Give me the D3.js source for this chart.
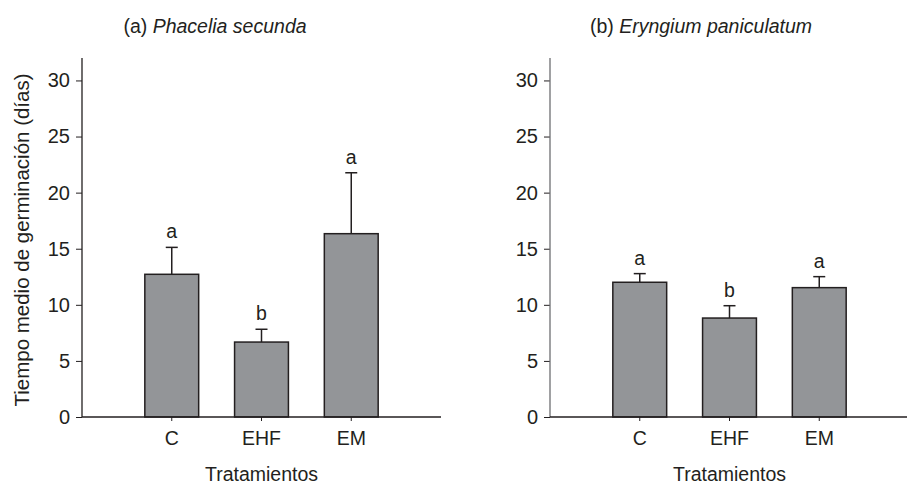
<!DOCTYPE html>
<html>
<head>
<meta charset="utf-8">
<script src="https://cdn.jsdelivr.net/npm/d3@7"></script>
<style>
  html, body { margin: 0; padding: 0; background: #fff; }
  svg { display: block; }
  text { font-family: "Liberation Sans", Arial, sans-serif; fill: #231f20; }
</style>
</head>
<body>
<script>
const categories = ["C", "EHF", "EM"];
const meansA = [12.72, 6.68, 16.34];
const seA = [2.40, 1.14, 5.43];
const lettersA = ["a", "b", "a"];
const meansB = [12.01, 8.82, 11.53];
const seB = [0.77, 1.10, 0.98];
const lettersB = ["a", "b", "a"];
const yTicks = [0, 5, 10, 15, 20, 25, 30];
const yLabel = "Tiempo medio de germinación (días)";
const xLabel = "Tratamientos";

const W = 907, H = 486;
const svg = d3.select("body").append("svg").attr("width", W).attr("height", H);

const FS = 19.5;
const y = d3.scaleLinear().domain([0, 32]).range([417, 58]);

function panel(x0, prefix, species, titleX, means, se, letters, yAxisColor) {
  const x = d3.scaleBand().domain(categories).range([x0, x0 + 359])
    .paddingInner(0.4).paddingOuter(0.7);
  const g = svg.append("g");

  // y axis
  const ya = g.append("g").attr("transform", `translate(${x0},0)`)
    .call(d3.axisLeft(y).tickValues(yTicks).tickSize(6).tickPadding(6).tickFormat(d3.format("d")));
  ya.select(".domain").remove();
  ya.selectAll(".tick line").attr("stroke", "#231f20");
  ya.selectAll(".tick text").style("font-size", "20px").attr("fill", "#231f20")
    .style("font-family", '"Liberation Sans", Arial, sans-serif');
  g.append("line").attr("x1", x0).attr("x2", x0).attr("y1", y(32)).attr("y2", y(0))
    .attr("stroke", yAxisColor).attr("stroke-width", 1.3);

  const data = categories.map((c, i) => ({ c, m: means[i], s: se[i], l: letters[i] }));
  // error bars
  g.selectAll(".err").data(data).enter().append("line")
    .attr("x1", d => x(d.c) + x.bandwidth() / 2).attr("x2", d => x(d.c) + x.bandwidth() / 2)
    .attr("y1", d => y(d.m)).attr("y2", d => y(d.m + d.s))
    .attr("stroke", "#231f20").attr("stroke-width", 1.5);
  g.selectAll(".cap").data(data).enter().append("line")
    .attr("x1", d => x(d.c) + x.bandwidth() / 2 - 6).attr("x2", d => x(d.c) + x.bandwidth() / 2 + 6)
    .attr("y1", d => y(d.m + d.s)).attr("y2", d => y(d.m + d.s))
    .attr("stroke", "#231f20").attr("stroke-width", 1.5);
  // bars
  g.selectAll(".bar").data(data).enter().append("rect")
    .attr("x", d => x(d.c)).attr("width", x.bandwidth())
    .attr("y", d => y(d.m)).attr("height", d => y(0) - y(d.m))
    .attr("fill", "#939598").attr("stroke", "#231f20").attr("stroke-width", 1.5);
  g.selectAll(".let").data(data).enter().append("text")
    .attr("x", d => x(d.c) + x.bandwidth() / 2).attr("y", d => y(d.m + d.s) - 9)
    .attr("text-anchor", "middle").style("font-size", FS + "px").text(d => d.l);

  // x axis
  const xa = g.append("g").attr("transform", `translate(0,${y(0)})`)
    .call(d3.axisBottom(x).tickSize(4).tickPadding(10));
  xa.select(".domain").remove();
  xa.selectAll(".tick line").attr("stroke", "#231f20");
  xa.selectAll(".tick text").style("font-size", FS + "px").attr("fill", "#231f20")
    .style("font-family", '"Liberation Sans", Arial, sans-serif');
  g.append("line").attr("x1", x0).attr("x2", x0 + 359).attr("y1", y(0)).attr("y2", y(0))
    .attr("stroke", "#231f20").attr("stroke-width", 1.5);

  g.append("text").attr("x", x0 + 359 / 2).attr("y", 481).attr("text-anchor", "middle")
    .style("font-size", FS + "px").text(xLabel);

  const t = g.append("text").attr("x", titleX).attr("y", 33).attr("text-anchor", "middle")
    .style("font-size", FS + "px");
  t.append("tspan").text(prefix + " ");
  t.append("tspan").style("font-style", "italic").text(species);
}

panel(82, "(a)", "Phacelia secunda", 215, meansA, seA, lettersA, "#231f20");
panel(550, "(b)", "Eryngium paniculatum", 701, meansB, seB, lettersB, "#6d6e71");

svg.append("text").attr("transform", "translate(29,240) rotate(-90)")
  .attr("text-anchor", "middle").style("font-size", "20.5px").text(yLabel);
</script>
</body>
</html>
